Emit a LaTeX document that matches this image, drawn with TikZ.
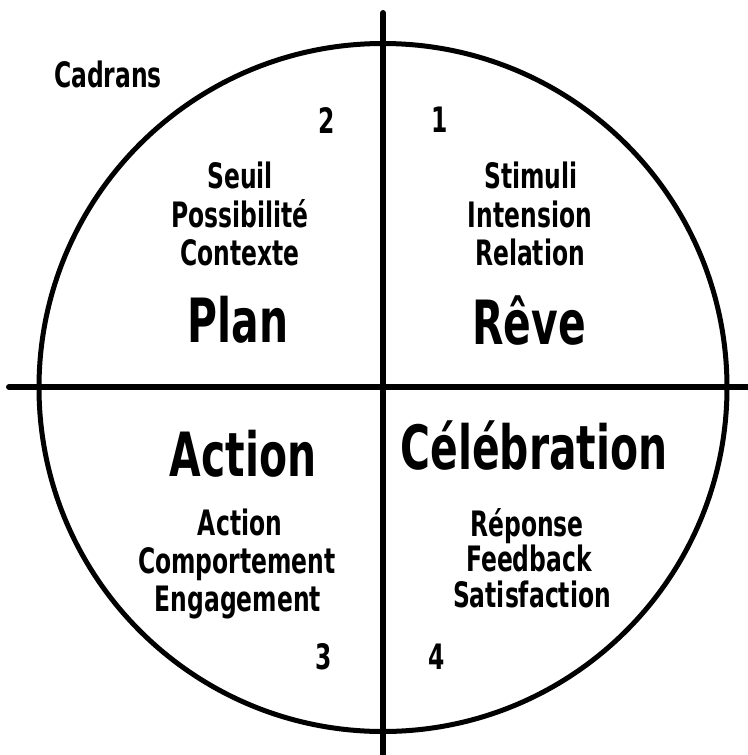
\documentclass[tikz,border=0pt]{standalone}
\usepackage{fontspec}
\newfontfamily\comic{DejaVu Sans}[FakeStretch=0.67]
\tikzset{
  ttl/.style={font=\comic\bfseries\fontsize{61}{64}\selectfont, anchor=base, inner sep=0pt},
  sub/.style={font=\comic\bfseries\fontsize{35}{38}\selectfont, anchor=base, inner sep=0pt},
  axis/.style={line width=6pt, line cap=round},
  ring/.style={line width=5pt}
}
\begin{document}
\begin{tikzpicture}[x=1pt,y=-1pt]
\useasboundingbox (0,0) rectangle (747,755);
\coordinate (c) at (383,387.5);
\draw[ring] (c) circle[radius=344];
\coordinate (vt) at (383,13);
\coordinate (vb) at (383,758);
\coordinate (hl) at (9,387);
\coordinate (hr) at (750,387);
\draw[axis] (vt) -- (vb);
\draw[axis] (hl) -- (hr);
% labels
\node[sub] (cad) at (108,87) {Cadrans};
\node[sub] (n2) at (327,133) {2};
\node[sub] (n1) at (440,132) {1};
\node[sub] (n3) at (324,669) {3};
\node[sub] (n4) at (437,669) {4};
% top left
\node[sub] (tl1) at (240,188) {Seuil};
\node[sub] (tl2) at (240,227) {Possibilité};
\node[sub] (tl3) at (240,265) {Contexte};
\node[ttl] (tlt) at (238,342) {Plan};
% top right
\node[sub] (tr1) at (531,188) {Stimuli};
\node[sub] (tr2) at (530,227) {Intension};
\node[sub] (tr3) at (530,265) {Relation};
\node[ttl] (trt) at (529,344) {Rêve};
% bottom left
\node[ttl] (blt) at (243,476) {Action};
\node[sub] (bl1) at (240,535) {Action};
\node[sub] (bl2) at (237,573) {Comportement};
\node[sub] (bl3) at (238,611) {Engagement};
% bottom right
\node[ttl] (brt) at (534,469) {Célébration};
\node[sub] (br1) at (527,536) {Réponse};
\node[sub] (br2) at (529,571) {Feedback};
\node[sub] (br3) at (532,607) {Satisfaction};
\end{tikzpicture}
\end{document}
